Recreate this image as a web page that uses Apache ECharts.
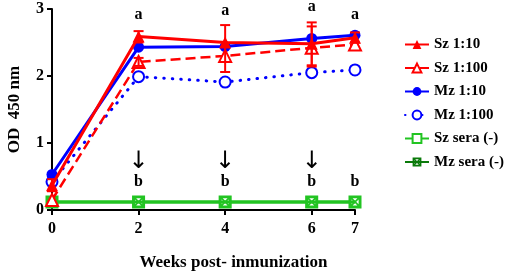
<!DOCTYPE html>
<html>
<head>
<meta charset="utf-8">
<script src="https://cdn.jsdelivr.net/npm/echarts@6/dist/echarts.min.js"></script>
<style>
    html, body { margin: 0; padding: 0; background: #fff; }
    #main { width: 510px; height: 274px; }
</style>
</head>
<body>
<div id="main"></div>
<script>
    // semanas de muestreo
    var weeks = [0, 2, 4, 6, 7];

    // OD 450 nm
    var sz10 = [0.37, 2.59, 2.50, 2.48, 2.57];
    var sz100 = [0.15, 2.21, 2.30, 2.42, 2.47];
    var mz10 = [0.53, 2.43, 2.44, 2.56, 2.61];
    var mz100 = [0.42, 1.99, 1.91, 2.05, 2.09];
    var szNeg = [0.12, 0.12, 0.12, 0.12, 0.12];
    var mzNeg = [0.12, 0.12, 0.12, 0.12, 0.12];

    // barras de error [semana, min, max]
    var errRed = [[0, 0.28, 0.46], [2, 2.50, 2.67], [2, 2.15, 2.27], [4, 2.06, 2.76],
        [6, 2.16, 2.80], [6, 2.14, 2.74], [7, 2.50, 2.65]];

    // letras de significancia
    var aWeeks = [2, 4, 6, 7];
    var aY = [2.92, 2.97, 3.03, 2.91];
    var arrowWeeks = [2, 4, 6];
    var arrowY = 0.72;
    var bWeeks = [2, 4, 6, 7];
    var bY = 0.42;

    var xTicks = [0, 2, 4, 6, 7];

    var font = 'Liberation Serif';
    var RED = '#ff0000', BLUE = '#0000ff', GREEN = '#22c422', DKGREEN = '#0a7a0a';

    var boxX = 'path://M0,0L10,0L10,10L0,10Z M2,2L2,8L8,8L8,2Z M2,2L3,2L8,7L8,8L7,8L2,3Z M8,2L8,3L3,8L2,8L2,7L7,2Z';

    function pairs(ys) {
        return weeks.map(function (w, i) { return [w, ys[i]]; });
    }

    // textos anclados a coordenadas de datos
    function labelSeries(xs, y, text, size, arrow) {
        return {
            type: 'custom',
            silent: true,
            data: xs.map(function (w, i) { return [w, Array.isArray(y) ? y[i] : y]; }),
            renderItem: function (params, api) {
                var p = api.coord([api.value(0), api.value(1)]);
                return {
                    type: 'text',
                    x: p[0],
                    y: p[1],
                    style: {
                        text: text,
                        fill: '#000',
                        align: 'center',
                        verticalAlign: 'middle',
                        font: (arrow ? 'normal ' : 'bold ') + size + 'px ' + (arrow ? '"DejaVu Sans"' : '"Liberation Serif"')
                    }
                };
            },
            z: 1
        };
    }

    var chart = echarts.init(document.getElementById('main'));

    var opt = {
        animation: false,
        grid: {left: 52, right: 155, top: 9, bottom: 64, outerBoundsMode: 'none', containLabel: false},
        legend: {
            orient: 'vertical',
            left: 399,
            top: 32,
            itemWidth: 24,
            itemHeight: 11,
            itemGap: 8.5,
            textStyle: {fontFamily: font, fontWeight: 'bold', fontSize: 15, color: '#000'},
            data: [
                {name: 'Sz 1:10'},
                {name: 'Sz 1:100'},
                {name: 'Mz 1:10'},
                {name: 'Mz 1:100'},
                {name: 'Sz sera (-)'},
                {name: 'Mz sera (-)', itemStyle: {color: DKGREEN, borderColor: DKGREEN}, lineStyle: {color: DKGREEN}}
            ]
        },
        xAxis: {
            type: 'value',
            min: 0,
            max: 7,
            name: 'Weeks post- inmunization',
            nameLocation: 'middle',
            nameGap: 44,
            nameTextStyle: {fontFamily: font, fontWeight: 'bold', fontSize: 17, color: '#000', padding: [0, 0, 0, 60]},
            axisLine: {lineStyle: {color: '#000', width: 2}},
            axisTick: {show: true, customValues: xTicks, length: 5, lineStyle: {color: '#000', width: 2}},
            axisLabel: {customValues: xTicks, fontFamily: font, fontWeight: 'bold', fontSize: 16, color: '#000', margin: 11},
            splitLine: {show: false}
        },
        yAxis: {
            type: 'value',
            min: 0,
            max: 3,
            interval: 1,
            name: 'OD  450 nm',
            nameLocation: 'middle',
            nameGap: 29,
            nameTextStyle: {fontFamily: font, fontWeight: 'bold', fontSize: 17, color: '#000'},
            axisLine: {show: true, lineStyle: {color: '#000', width: 2}},
            axisTick: {show: true, length: 5, lineStyle: {color: '#000', width: 2}},
            axisLabel: {fontFamily: font, fontWeight: 'bold', fontSize: 16, color: '#000', margin: 8},
            splitLine: {show: false}
        },
        series: [
            {
                name: 'Sz sera (-)', type: 'line', data: pairs(szNeg),
                symbol: 'rect', symbolSize: 11,
                lineStyle: {color: GREEN, width: 3},
                itemStyle: {color: '#fff', borderColor: GREEN, borderWidth: 2},
                z: 2
            },
            {
                name: 'Mz sera (-)', type: 'line', data: pairs(mzNeg),
                symbol: boxX, symbolSize: 12, symbolKeepAspect: true,
                lineStyle: {color: GREEN, width: 3},
                itemStyle: {color: GREEN},
                z: 3
            },
            {
                name: 'Mz 1:100', type: 'line', data: pairs(mz100),
                symbol: 'emptyCircle', symbolSize: 11,
                lineStyle: {color: BLUE, width: 3, type: [0.5, 8], cap: 'round'},
                itemStyle: {color: BLUE, borderColor: BLUE, borderWidth: 2},
                z: 4
            },
            {
                name: 'Mz 1:10', type: 'line', data: pairs(mz10),
                symbol: 'circle', symbolSize: 11,
                lineStyle: {color: BLUE, width: 3},
                itemStyle: {color: BLUE},
                z: 5
            },
            {
                name: 'Sz 1:100', type: 'line', data: pairs(sz100),
                symbol: 'emptyTriangle', symbolSize: 12,
                lineStyle: {color: RED, width: 2.5, type: [10, 5]},
                itemStyle: {color: RED, borderColor: RED, borderWidth: 2},
                z: 6
            },
            {
                name: 'Sz 1:10', type: 'line', data: pairs(sz10),
                symbol: 'triangle', symbolSize: 12,
                lineStyle: {color: RED, width: 3},
                itemStyle: {color: RED},
                z: 7
            },
            {
                // barras de error
                type: 'custom',
                silent: true,
                data: errRed,
                renderItem: function (params, api) {
                    var lo = api.coord([api.value(0), api.value(1)]);
                    var hi = api.coord([api.value(0), api.value(2)]);
                    var w = 5;
                    var st = {stroke: RED, lineWidth: 2};
                    return {
                        type: 'group',
                        children: [
                            {type: 'line', shape: {x1: lo[0], y1: lo[1], x2: hi[0], y2: hi[1]}, style: st},
                            {type: 'line', shape: {x1: lo[0] - w, y1: lo[1], x2: lo[0] + w, y2: lo[1]}, style: st},
                            {type: 'line', shape: {x1: hi[0] - w, y1: hi[1], x2: hi[0] + w, y2: hi[1]}, style: st}
                        ]
                    };
                },
                z: 8
            },
            labelSeries(aWeeks, aY, 'a', 16),
            labelSeries(arrowWeeks, arrowY, '↓', 24, true),
            labelSeries(bWeeks, bY, 'b', 16)
        ]
    };

    chart.setOption(opt);
</script>
</body>
</html>
